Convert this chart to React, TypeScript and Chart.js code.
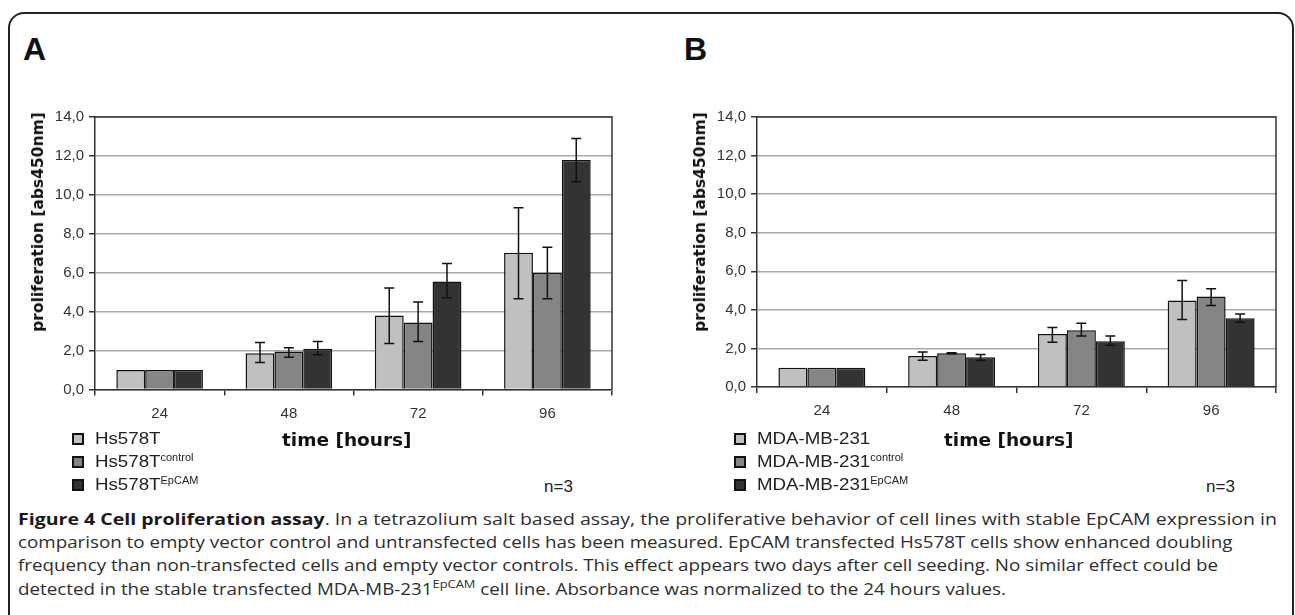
import React, { useEffect, useLayoutEffect, useRef } from "react";
import { Chart, registerables } from "chart.js";

Chart.register(...registerables);

// ---------- data ----------
const categories = ["24", "48", "72", "96"];
const yTicksMax = 14;
const yTickStep = 2;

// Panel A (Hs578T)
const hsMean = [1.0, 1.86, 3.8, 7.02];
const hsLow = [null, 1.39, 2.36, 4.66];
const hsHigh = [null, 2.41, 5.21, 9.34];
const hsCtrlMean = [1.0, 1.95, 3.44, 5.98];
const hsCtrlLow = [null, 1.66, 2.47, 4.66];
const hsCtrlHigh = [null, 2.14, 4.5, 7.31];
const hsEpMean = [1.0, 2.1, 5.55, 11.79];
const hsEpLow = [null, 1.78, 4.72, 10.67];
const hsEpHigh = [null, 2.47, 6.47, 12.9];

// Panel B (MDA-MB-231)
const mdaMean = [1.0, 1.61, 2.75, 4.49];
const mdaLow = [null, 1.39, 2.32, 3.5];
const mdaHigh = [null, 1.82, 3.08, 5.52];
const mdaCtrlMean = [1.0, 1.75, 2.94, 4.69];
const mdaCtrlLow = [null, 1.72, 2.65, 4.22];
const mdaCtrlHigh = [null, 1.78, 3.31, 5.1];
const mdaEpMean = [1.0, 1.54, 2.37, 3.57];
const mdaEpLow = [null, 1.37, 2.16, 3.36];
const mdaEpHigh = [null, 1.68, 2.65, 3.79];

const seriesColors = ["#c0c0c0", "#858585", "#333333"];

const axisFont = "'Liberation Sans', Arial, sans-serif";
const titleFont = "'DejaVu Sans', Verdana, sans-serif";
const captionFont = "'Open Sans', 'Noto Sans', sans-serif";

// ---------- plugins ----------
const errorBarPlugin = {
  id: "errorBars",
  afterDatasetsDraw(chart: any) {
    const { ctx } = chart;
    const y = chart.scales.y;
    chart.data.datasets.forEach((ds: any, i: number) => {
      const meta = chart.getDatasetMeta(i);
      meta.data.forEach((el: any, j: number) => {
        const lo = ds.errLow ? ds.errLow[j] : null;
        const hi = ds.errHigh ? ds.errHigh[j] : null;
        if (lo == null || hi == null) return;
        const x = el.x;
        const yl = y.getPixelForValue(lo);
        const yh = y.getPixelForValue(hi);
        ctx.save();
        ctx.strokeStyle = "#111";
        ctx.lineWidth = 1.5;
        ctx.beginPath();
        ctx.moveTo(x, yl);
        ctx.lineTo(x, yh);
        ctx.moveTo(x - 5, yl);
        ctx.lineTo(x + 5, yl);
        ctx.moveTo(x - 5, yh);
        ctx.lineTo(x + 5, yh);
        ctx.stroke();
        ctx.restore();
      });
    });
  },
};

const framePlugin = {
  id: "plotFrame",
  beforeDatasetsDraw(chart: any) {
    const { ctx, chartArea } = chart;
    ctx.save();
    ctx.strokeStyle = "#333";
    ctx.lineWidth = 1.5;
    ctx.beginPath();
    ctx.moveTo(chartArea.left, chartArea.top);
    ctx.lineTo(chartArea.right, chartArea.top);
    ctx.lineTo(chartArea.right, chartArea.bottom);
    ctx.stroke();
    ctx.restore();
  },
};

type PanelProps = {
  left: number;
  top: number;
  width: number;
  height: number;
  padding: { left: number; top: number; right: number; bottom: number };
  series: { label: string; mean: number[]; low: (number | null)[]; high: (number | null)[] }[];
};

function Panel(props: PanelProps) {
  const ref = useRef<HTMLCanvasElement | null>(null);
  useEffect(() => {
    if (!ref.current) return;
    const chart = new Chart(ref.current, {
      type: "bar",
      data: {
        labels: categories,
        datasets: props.series.map((s, i) => ({
          label: s.label,
          data: s.mean,
          errLow: s.low,
          errHigh: s.high,
          backgroundColor: seriesColors[i],
          borderColor: "#111",
          borderWidth: 1.5,
          categoryPercentage: 0.67,
          barPercentage: 1,
        })) as any,
      },
      options: {
        animation: false,
        responsive: false,
        devicePixelRatio: 1,
        layout: { padding: props.padding },
        plugins: { legend: { display: false }, tooltip: { enabled: false } },
        scales: {
          x: {
            grid: {
              drawOnChartArea: false,
              drawTicks: true,
              tickLength: 6,
              color: "#333",
              lineWidth: 1.5,
              offset: true,
            },
            border: { display: true, color: "#333", width: 1.5 },
            ticks: { font: { family: axisFont, size: 15 }, color: "#333", padding: 9 },
            afterFit: (s: any) => {
              s.height = 40;
              s.paddingLeft = 0;
              s.paddingRight = 0;
            },
          },
          y: {
            min: 0,
            max: yTicksMax,
            grid: { color: "#a8a8a8", lineWidth: 1.5, tickColor: "#333", tickLength: 6 },
            border: { display: true, color: "#333", width: 1.5 },
            ticks: {
              stepSize: yTickStep,
              font: { family: axisFont, size: 15 },
              color: "#333",
              padding: 5,
              callback: (v: any) => Number(v).toFixed(1).replace(".", ","),
            },
            afterFit: (s: any) => {
              s.width = 95;
              s.paddingTop = 0;
              s.paddingBottom = 0;
            },
          },
        },
      },
      plugins: [framePlugin, errorBarPlugin],
    });
    return () => chart.destroy();
  }, []);
  return (
    <canvas
      ref={ref}
      width={props.width}
      height={props.height}
      style={{ position: "absolute", left: props.left, top: props.top, width: props.width, height: props.height }}
    />
  );
}

const abs = (s: React.CSSProperties): React.CSSProperties => ({ position: "absolute", whiteSpace: "nowrap", ...s });

function LegendItem(p: { x: number; y: number; color: string; name: string; sup?: string }) {
  return (
    <div style={abs({ left: p.x, top: p.y - 11, height: 22, display: "flex", alignItems: "center" })}>
      <div
        style={{
          width: 12,
          height: 12,
          boxSizing: "border-box",
          border: "2px solid #111",
          background: p.color,
          marginRight: 11,
        }}
      />
      <span
        style={{
          fontFamily: axisFont,
          fontSize: 17,
          color: "#222",
          display: "inline-block",
          transform: "scaleX(1.1)",
          transformOrigin: "left center",
        }}
      >
        {p.name}
        {p.sup ? <sup style={{ fontSize: 10, verticalAlign: "6px" }}>{p.sup}</sup> : null}
      </span>
    </div>
  );
}

function PanelText(p: { dx: number; letterX: number; letter: string; names: [string, string, string] }) {
  const dx = p.dx;
  return (
    <>
      <div style={abs({ left: p.letterX, top: 31, fontFamily: axisFont, fontWeight: 700, fontSize: 32, color: "#111" })}>
        {p.letter}
      </div>
      <div
        style={abs({
          left: 38 + dx,
          top: 222,
          transform: "translate(-50%, -50%) rotate(-90deg)",
          fontFamily: titleFont,
          fontWeight: 700,
          fontSize: 15.5,
          color: "#111",
        })}
      >
        proliferation [abs450nm]
      </div>
      <div
        style={abs({
          left: 282 + dx,
          top: 439,
          transform: "translateY(-50%)",
          fontFamily: titleFont,
          fontWeight: 700,
          fontSize: 18.5,
          color: "#111",
        })}
      >
        time [hours]
      </div>
      <LegendItem x={72 + dx} y={439} color={seriesColors[0]} name={p.names[0]} />
      <LegendItem x={72 + dx} y={462} color={seriesColors[1]} name={p.names[1]} sup="control" />
      <LegendItem x={72 + dx} y={485} color={seriesColors[2]} name={p.names[2]} sup="EpCAM" />
      <div
        style={abs({
          left: 544 + dx,
          top: 487,
          transform: "translateY(-50%)",
          fontFamily: axisFont,
          fontSize: 17,
          color: "#222",
        })}
      >
        n=3
      </div>
    </>
  );
}

const captionLeft = 18;
const captionTops = [519, 542, 565, 588];
// target text widths per caption line (line 4 follows line 2's scale)
const captionTargets = [1259, 1215, 1200];

function Caption() {
  const refs = [useRef<HTMLDivElement | null>(null), useRef<HTMLDivElement | null>(null), useRef<HTMLDivElement | null>(null), useRef<HTMLDivElement | null>(null)];
  useLayoutEffect(() => {
    const ks: number[] = [];
    refs.forEach((r, i) => {
      const el = r.current;
      if (!el) return;
      let k: number;
      if (i < 3) {
        const w = el.scrollWidth;
        k = w > 0 ? captionTargets[i] / w : 1;
      } else {
        k = ks[1] || 1;
      }
      ks[i] = k;
      el.style.transform = `translateY(-50%) scaleX(${k})`;
    });
  }, []);
  const capStyle: React.CSSProperties = {
    fontFamily: captionFont,
    fontSize: 16,
    color: "#2e2e2e",
    transformOrigin: "left center",
    transform: "translateY(-50%)",
  };
  return (
    <>
      <div ref={refs[0]} style={abs({ left: captionLeft, top: captionTops[0], ...capStyle })}>
        <b style={{ color: "#1a1a1a" }}>Figure 4 Cell proliferation assay</b>. In a tetrazolium salt based assay, the proliferative behavior of cell lines with stable EpCAM expression in
      </div>
      <div ref={refs[1]} style={abs({ left: captionLeft, top: captionTops[1], ...capStyle })}>
        comparison to empty vector control and untransfected cells has been measured. EpCAM transfected Hs578T cells show enhanced doubling
      </div>
      <div ref={refs[2]} style={abs({ left: captionLeft, top: captionTops[2], ...capStyle })}>
        frequency than non-transfected cells and empty vector controls. This effect appears two days after cell seeding. No similar effect could be
      </div>
      <div ref={refs[3]} style={abs({ left: captionLeft, top: captionTops[3], ...capStyle })}>
        detected in the stable transfected MDA-MB-231<sup style={{ fontSize: 11, verticalAlign: "7px" }}>EpCAM</sup> cell line. Absorbance was normalized to the 24 hours values.
      </div>
    </>
  );
}

export default function App() {
  return (
    <div style={{ position: "fixed", left: 0, top: 0, width: 1295, height: 615, overflow: "hidden", background: "#fff" }}>
      <div
        style={{
          position: "absolute",
          left: 8,
          top: 12,
          width: 1286,
          height: 640,
          boxSizing: "border-box",
          border: "2px solid #222",
          borderRadius: 16,
        }}
      />
      <Panel
        left={0}
        top={100}
        width={640}
        height={330}
        padding={{ left: 0, top: 17, right: 28, bottom: 0.5 }}
        series={[
          { label: "Hs578T", mean: hsMean, low: hsLow, high: hsHigh },
          { label: "Hs578Tcontrol", mean: hsCtrlMean, low: hsCtrlLow, high: hsCtrlHigh },
          { label: "Hs578TEpCAM", mean: hsEpMean, low: hsEpLow, high: hsEpHigh },
        ]}
      />
      <Panel
        left={662}
        top={100}
        width={640}
        height={330}
        padding={{ left: 0, top: 17, right: 26, bottom: 3 }}
        series={[
          { label: "MDA-MB-231", mean: mdaMean, low: mdaLow, high: mdaHigh },
          { label: "MDA-MB-231control", mean: mdaCtrlMean, low: mdaCtrlLow, high: mdaCtrlHigh },
          { label: "MDA-MB-231EpCAM", mean: mdaEpMean, low: mdaEpLow, high: mdaEpHigh },
        ]}
      />
      <PanelText dx={0} letterX={23} letter="A" names={["Hs578T", "Hs578T", "Hs578T"]} />
      <PanelText dx={662} letterX={684} letter="B" names={["MDA-MB-231", "MDA-MB-231", "MDA-MB-231"]} />
      <Caption />
    </div>
  );
}
